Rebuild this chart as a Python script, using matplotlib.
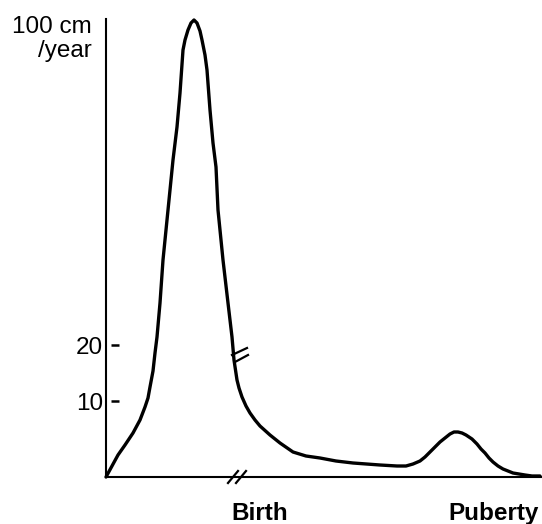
import matplotlib
matplotlib.use("Agg")
import matplotlib.pyplot as plt

plt.rcParams['font.family'] = ['Liberation Sans', 'DejaVu Sans']

# schematic growth-velocity curve (x: age in drawing units, y: velocity in drawing units)
age = [0, 6, 12, 19, 27, 34, 39, 42, 44, 47, 49, 51, 54, 57, 62, 67, 71, 74,
       77, 79, 82, 85, 88, 91, 94, 96, 99, 101, 104, 107, 110, 112, 117, 122,
       126, 128, 131, 133, 136, 140, 144, 149, 154, 164, 174, 187, 200, 214,
       230, 247, 274, 291, 300, 307, 314, 319, 324, 329, 334, 339, 344, 348,
       352, 356, 360, 366, 371, 375, 379, 383, 387, 392, 397, 402, 407, 413,
       419, 426, 434]
velocity = [0, 11, 22, 32, 44, 57, 70, 79, 90, 106, 124, 140, 174, 217, 267,
            317, 350, 384, 427, 437, 447, 454, 457, 454, 446, 437, 422, 407, 367,
            334, 310, 267, 217, 174, 140, 117, 97, 89, 80, 71, 64, 57, 51, 42, 34,
            25, 21, 19, 16, 14, 12, 11, 11, 13, 16, 20, 25, 30, 35, 39, 43, 45, 45,
            44, 42, 38, 33, 28, 24, 19, 15, 11, 8, 6, 4, 3, 2, 1, 1]

tick_pos = [76, 132]
tick_labels = ["10", "20"]
top_label = "100 cm\n/year"
stage_pos = [154, 388]
stage_labels = ["Birth", "Puberty"]

fig = plt.figure(figsize=(5.42, 5.24), dpi=100)
ax = fig.add_axes([106 / 542, 47 / 524, 435 / 542, 458 / 524])
ax.set_xlim(0, 435)
ax.set_ylim(0, 458)

ax.plot(age, velocity, color='black', lw=2.4, solid_joinstyle='round',
        solid_capstyle='round', clip_on=False)

for s in ['top', 'right']:
    ax.spines[s].set_visible(False)
for s in ['left', 'bottom']:
    ax.spines[s].set_linewidth(1.5)
    ax.spines[s].set_color('black')

ax.set_xticks([])
ax.set_yticks(tick_pos, tick_labels, fontsize=17.5)
ax.tick_params(axis='y', length=0, pad=2)

# short detached tick dashes
for y in tick_pos:
    ax.plot([5, 13], [y, y], color='black', lw=1.8, solid_capstyle='butt')

ax.text(-14, 461, top_label, ha='right', va='top', fontsize=17.5, linespacing=1.1)

# axis break marks
for dx in [0, 8]:
    ax.plot([122 + dx, 132 + dx], [-6, 6], color='black', lw=1.6, clip_on=False)
ax.plot([126, 141], [122, 129], color='black', lw=1.6)
ax.plot([129, 142], [115, 122], color='black', lw=1.6)

for x, lab in zip(stage_pos, stage_labels):
    ax.text(x, -43, lab, ha='center', va='baseline', fontsize=17.5, fontweight='bold')

fig.savefig('out.png', dpi=100)
